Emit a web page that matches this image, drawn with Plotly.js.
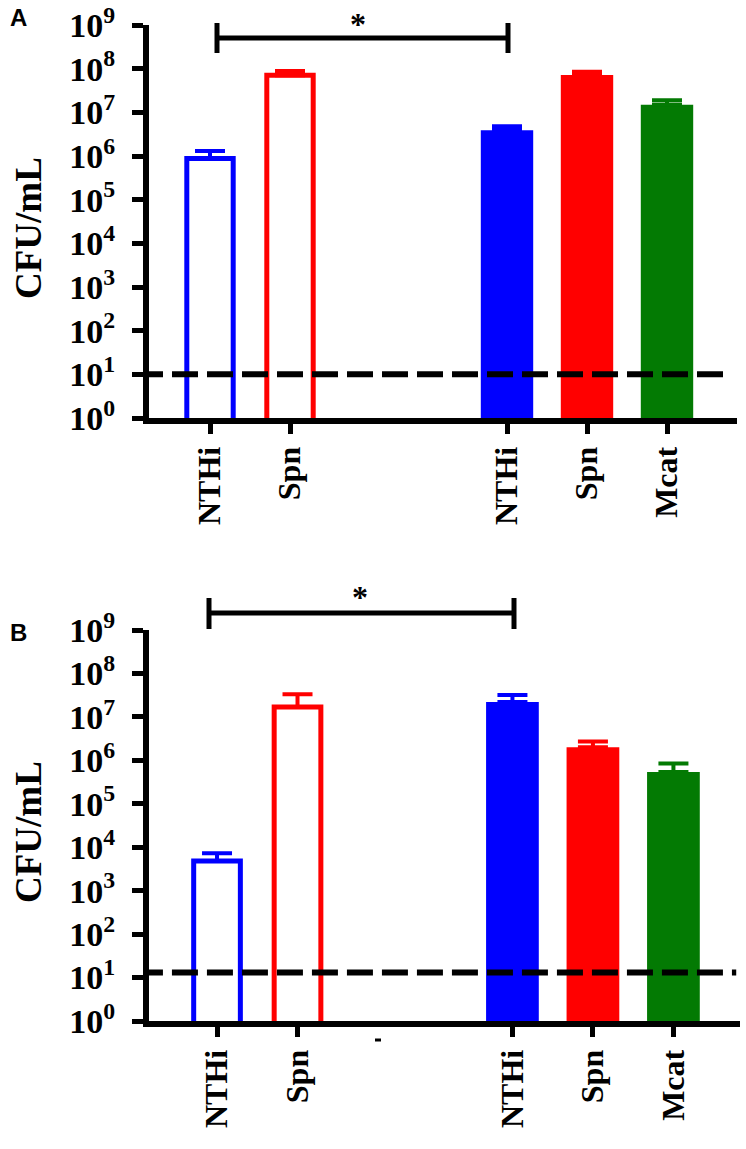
<!DOCTYPE html>
<html><head><meta charset="utf-8">
<script src="https://cdn.plot.ly/plotly-3.0.1.min.js"></script>
<style>html,body{margin:0;padding:0;background:#fff}#chart{width:746px;height:1149px}</style>
</head><body><div id="chart"></div>
<script>
// ---- data ----
const singleLabels = ["NTHi", "Spn"];
const mixedLabels = ["NTHi", "Spn", "Mcat"];
const singleColors = ["#0000ff", "#ff0000"];
const mixedColors = ["#0000ff", "#ff0000", "#037a03"];

const panelA_single = [8.8e5, 7.1e7];
const panelA_single_err = [4.2e5, 1.8e7];
const panelA_mixed = [3.9e6, 7.2e7, 1.5e7];
const panelA_mixed_err = [0.9e6, 1.3e7, 4.0e6];
const panelA_limit = 10;

const panelB_single = [4.8e3, 1.7e7];
const panelB_single_err = [2.5e3, 1.6e7];
const panelB_mixed = [2.2e7, 2.0e6, 5.4e5];
const panelB_mixed_err = [1.0e7, 0.7e6, 3.0e5];
const panelB_limit = 13;

const yTickVals = [1, 1e1, 1e2, 1e3, 1e4, 1e5, 1e6, 1e7, 1e8, 1e9];
const yTickText = ["10<sup>0</sup>", "10<sup>1</sup>", "10<sup>2</sup>", "10<sup>3</sup>", "10<sup>4</sup>",
                   "10<sup>5</sup>", "10<sup>6</sup>", "10<sup>7</sup>", "10<sup>8</sup>", "10<sup>9</sup>"];
const yTitle = "CFU/mL";

// ---- layout helpers ----
const W = 746, H = 1149;
const PX = p => p / W, PY = p => 1 - p / H;
const SERIF = "Liberation Serif, Times New Roman, serif";
const B = t => "<b>" + t + "</b>";

const panels = [
  {sfx: "", single: panelA_single, singleErr: panelA_single_err, mixed: panelA_mixed, mixedErr: panelA_mixed_err,
   limit: panelA_limit, gap: 3.7125, range: [-0.7625, 6.5875], xdom: [149, 737], ydom: [25, 418], dashEnd: 6.5},
  {sfx: "2", single: panelB_single, singleErr: panelB_single_err, mixed: panelB_mixed, mixedErr: panelB_mixed_err,
   limit: panelB_limit, gap: 3.67, range: [-0.845, 6.497], xdom: [149, 740], ydom: [630, 1021], dashEnd: 6.45}
];

const traces = [];
const layout = {
  width: W, height: H, margin: {l: 0, r: 0, t: 0, b: 0},
  paper_bgcolor: "#fff", plot_bgcolor: "rgba(0,0,0,0)",
  showlegend: false, barmode: "overlay", shapes: [], annotations: []
};

panels.forEach((p) => {
  const xa = "x" + p.sfx, ya = "y" + p.sfx;
  const singlePos = singleLabels.map((_, i) => i);
  const mixedPos = mixedLabels.map((_, i) => p.gap + i);
  singleLabels.forEach((lab, i) => {
    traces.push({type: "bar", x: [singlePos[i]], y: [p.single[i]], width: [0.58], xaxis: xa, yaxis: ya,
      marker: {color: "rgba(255,255,255,0)", line: {color: singleColors[i], width: 5}},
      error_y: {type: "data", symmetric: false, array: [p.singleErr[i]], arrayminus: [0],
                color: singleColors[i], thickness: 4, width: 15},
      hoverinfo: "skip"});
  });
  mixedLabels.forEach((lab, i) => {
    traces.push({type: "bar", x: [mixedPos[i]], y: [p.mixed[i]], width: [0.655], xaxis: xa, yaxis: ya,
      marker: {color: mixedColors[i], line: {width: 0}},
      error_y: {type: "data", symmetric: false, array: [p.mixedErr[i]], arrayminus: [0],
                color: mixedColors[i], thickness: 4, width: 15},
      hoverinfo: "skip"});
  });
  traces.push({type: "scatter", mode: "lines", x: [p.range[0] - 0.15, p.dashEnd], y: [p.limit, p.limit],
    xaxis: xa, yaxis: ya, line: {color: "#000", width: 6, dash: "26px,9px"}, hoverinfo: "skip"});

  layout["xaxis" + p.sfx] = {
    domain: [PX(p.xdom[0]), PX(p.xdom[1])], range: p.range, anchor: ya,
    showline: true, linewidth: 6, linecolor: "#000", mirror: false,
    ticks: "outside", ticklen: 10, tickwidth: 5, tickcolor: "#000",
    tickvals: singlePos.concat(mixedPos), ticktext: singleLabels.concat(mixedLabels).map(B),
    tickangle: -90, tickfont: {family: SERIF, size: 32, color: "#000"},
    showgrid: false, zeroline: false, fixedrange: true
  };
  layout["yaxis" + p.sfx] = {
    domain: [PY(p.ydom[1]), PY(p.ydom[0])], type: "log", range: [0, 9], anchor: xa,
    showline: true, linewidth: 6, linecolor: "#000",
    ticks: "outside", ticklen: 11, tickwidth: 5, tickcolor: "#000",
    tickvals: yTickVals, ticktext: yTickText.map(B), ticklabelstandoff: 10,
    ticklabeloverflow: "allow",
    tickfont: {family: SERIF, size: 34, color: "#000"},
    showgrid: false, zeroline: false, fixedrange: true
  };
});

// significance brackets
const brackets = [
  {x0: 217, x1: 508, y: 38, c0: 23, c1: 53, sx: 358, sy: 24},
  {x0: 209, x1: 514, y: 613, c0: 598, c1: 629, sx: 360, sy: 597}
];
brackets.forEach(b => {
  const ln = {color: "#000", width: 5};
  layout.shapes.push({type: "line", xref: "paper", yref: "paper", x0: PX(b.x0), x1: PX(b.x1), y0: PY(b.y), y1: PY(b.y), line: ln});
  layout.shapes.push({type: "line", xref: "paper", yref: "paper", x0: PX(b.x0), x1: PX(b.x0), y0: PY(b.c0), y1: PY(b.c1), line: ln});
  layout.shapes.push({type: "line", xref: "paper", yref: "paper", x0: PX(b.x1), x1: PX(b.x1), y0: PY(b.c0), y1: PY(b.c1), line: ln});
  layout.annotations.push({xref: "paper", yref: "paper", x: PX(b.sx), y: PY(b.sy), text: B("*"), showarrow: false,
    xanchor: "center", yanchor: "middle", font: {family: SERIF, size: 32, color: "#000"}});
});
// small stray mark below the axis in panel B
layout.shapes.push({type: "line", xref: "paper", yref: "paper", x0: PX(375), x1: PX(381), y0: PY(1040), y1: PY(1040),
  line: {color: "#000", width: 3}});

// panel letters and axis titles
[["A", 18, 18], ["B", 18, 632]].forEach(([t, x, y]) => {
  layout.annotations.push({xref: "paper", yref: "paper", x: PX(x), y: PY(y), text: B(t), showarrow: false,
    xanchor: "center", yanchor: "middle", font: {family: "Liberation Sans, Arial, sans-serif", size: 24, color: "#000"}});
});
[228, 832].forEach(y => {
  layout.annotations.push({xref: "paper", yref: "paper", x: PX(28), y: PY(y), text: B(yTitle), textangle: -90,
    showarrow: false, xanchor: "center", yanchor: "middle",
    font: {family: SERIF, size: 37, color: "#000"}});
});

Plotly.newPlot("chart", traces, layout, {staticPlot: true, displayModeBar: false});
</script>
</body></html>
